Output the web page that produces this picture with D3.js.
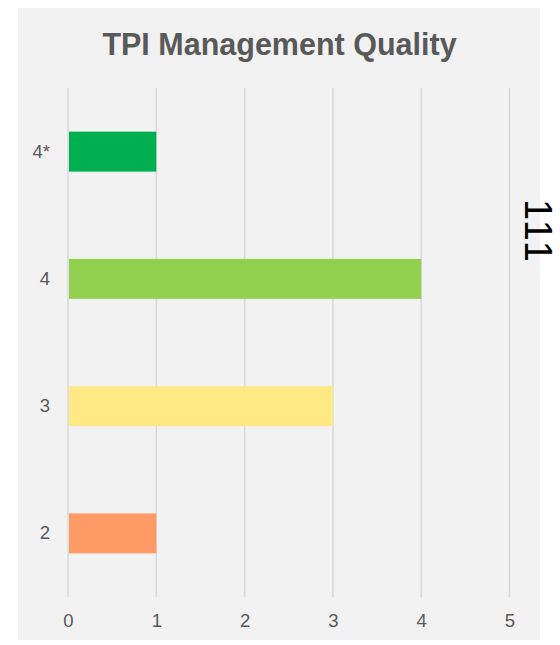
<!DOCTYPE html>
<meta charset="utf-8">
<style>
body { margin: 0; background: #fff; }
.axis path, .axis line { display: none; }
.grid line { stroke: #d9d9d9; stroke-width: 1.5; }
</style>
<body>
<script src="https://cdn.jsdelivr.net/npm/d3@7"></script>
<script>

var categories = ["4*", "4", "3", "2"];
var values = [1, 4, 3, 1];
var colors = ["#00b050", "#92d050", "#ffe985", "#ff9966"];
var xTicks = [0, 1, 2, 3, 4, 5];

var width = 560, height = 645;
var panel = {left: 18, top: 8, right: 540, bottom: 640};
var plot = {left: 68, right: 509.5, top: 88, bottom: 597};
var fontFamily = "Liberation Sans, Arimo, Arial, Helvetica, sans-serif";

var svg = d3.select("body").append("svg")
    .attr("width", width)
    .attr("height", height);

svg.append("rect")
    .attr("x", panel.left)
    .attr("y", panel.top)
    .attr("width", panel.right - panel.left)
    .attr("height", panel.bottom - panel.top)
    .attr("fill", "#f2f2f2");

svg.append("text")
    .attr("x", 279.5)
    .attr("y", 55)
    .attr("text-anchor", "middle")
    .attr("font-family", fontFamily)
    .attr("font-weight", "bold")
    .attr("font-size", 30.5)
    .attr("fill", "#595959")
    .text("TPI Management Quality");

var x = d3.scaleLinear()
    .domain([0, 5])
    .range([plot.left, plot.right]);

var y = d3.scaleBand()
    .domain(categories)
    .range([plot.top, plot.bottom])
    .paddingInner(0.686)
    .paddingOuter(0.343);

// vertical gridlines
svg.append("g")
    .attr("class", "grid")
    .selectAll("line")
    .data(xTicks)
    .enter()
    .append("line")
    .attr("x1", function(d) { return x(d); })
    .attr("x2", function(d) { return x(d); })
    .attr("y1", plot.top)
    .attr("y2", plot.bottom);

svg.append("g")
    .selectAll("rect")
    .data(values)
    .enter()
    .append("rect")
    .attr("x", x(0) + 1)
    .attr("y", function(d, i) { return y(categories[i]); })
    .attr("width", function(d) { return x(d) - x(0) - 1; })
    .attr("height", y.bandwidth())
    .attr("fill", function(d, i) { return colors[i]; });

svg.append("g")
    .attr("class", "x axis")
    .attr("transform", "translate(0," + plot.bottom + ")")
    .call(d3.axisBottom(x).tickValues(xTicks).tickFormat(d3.format("d")).tickSize(0).tickPadding(17));

svg.append("g")
    .attr("class", "y axis")
    .attr("transform", "translate(" + (plot.left - 18) + ",0)")
    .call(d3.axisLeft(y).tickSize(0).tickPadding(0));

svg.selectAll(".axis")
    .attr("font-family", fontFamily)
    .attr("font-size", 18.5);
svg.selectAll(".axis text")
    .attr("fill", "#595959");

// stray rotated label on the right edge
svg.append("text")
    .attr("transform", "translate(525,199) rotate(90)")
    .attr("font-family", fontFamily)
    .attr("font-size", 38)
    .attr("letter-spacing", 2.5)
    .attr("fill", "#000")
    .text("111");

</script>
